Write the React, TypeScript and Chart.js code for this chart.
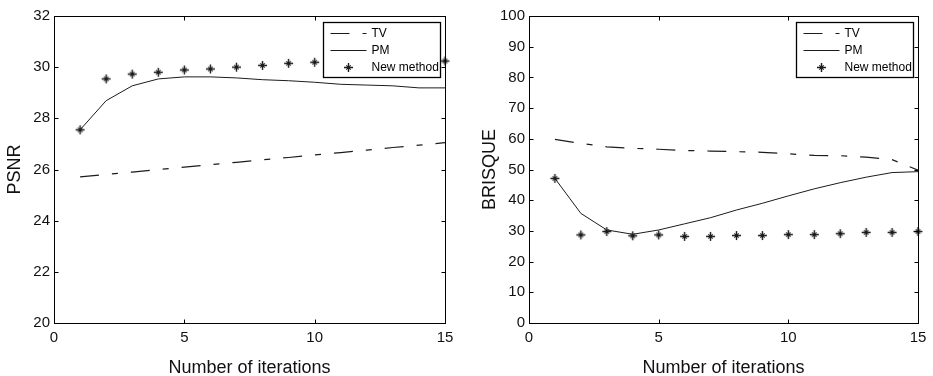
import React, { useEffect, useRef } from "react";
import { Chart, registerables } from "chart.js";

Chart.register(...registerables);

const iterations = [1, 2, 3, 4, 5, 6, 7, 8, 9, 10, 11, 12, 13, 14, 15];

const psnrTV = [25.71, 25.81, 25.9, 26.0, 26.09, 26.19, 26.28, 26.38, 26.47, 26.57, 26.66, 26.76, 26.86, 26.95, 27.05];
const psnrPM = [27.55, 28.69, 29.27, 29.54, 29.62, 29.62, 29.58, 29.51, 29.47, 29.41, 29.33, 29.3, 29.27, 29.19, 29.19];
const psnrNew = [27.55, 29.54, 29.73, 29.8, 29.89, 29.93, 30.0, 30.07, 30.15, 30.19, 30.2, 30.21, 30.22, 30.23, 30.24];

const brisqueTV = [59.8, 58.5, 57.4, 56.9, 56.6, 56.2, 56.0, 55.8, 55.6, 55.1, 54.6, 54.5, 54.0, 53.2, 49.8];
const brisquePM = [47.1, 35.7, 30.3, 28.9, 30.3, 32.3, 34.3, 36.8, 39.0, 41.4, 43.7, 45.7, 47.5, 49.0, 49.3];
const brisqueNew = [47.1, 28.7, 29.8, 28.4, 28.7, 28.2, 28.2, 28.5, 28.5, 28.8, 28.8, 29.1, 29.5, 29.5, 29.8];

const xTicks = [0, 5, 10, 15];
const psnrTicks = [20, 22, 24, 26, 28, 30, 32];
const brisqueTicks = [0, 10, 20, 30, 40, 50, 60, 70, 80, 90, 100];

const seriesLabels = ["TV", "PM", "New method"];
const xTitle = "Number of iterations";

const FONT = "'Liberation Sans', Arial, Helvetica, sans-serif";
const INK = "#1c1c1c";
const DASH = [19, 13, 6, 13];

let markerCache: HTMLCanvasElement | null = null;
function getMarker(): HTMLCanvasElement {
  if (markerCache) return markerCache;
  const c = document.createElement("canvas");
  c.width = 11;
  c.height = 11;
  const g = c.getContext("2d")!;
  g.strokeStyle = INK;
  g.lineWidth = 1.4;
  g.beginPath();
  g.moveTo(1, 5.5);
  g.lineTo(10, 5.5);
  g.moveTo(5.5, 1);
  g.lineTo(5.5, 10);
  g.stroke();
  g.lineWidth = 1.1;
  g.beginPath();
  g.moveTo(3.3, 3.3);
  g.lineTo(7.7, 7.7);
  g.moveTo(3.3, 7.7);
  g.lineTo(7.7, 3.3);
  g.stroke();
  g.fillStyle = INK;
  g.fillRect(4.3, 4.3, 2.4, 2.4);
  markerCache = c;
  return c;
}

const matlabFrame = {
  id: "matlabFrame",
  afterDatasetsDraw(chart: any, _args: any, opts: any) {
    const { ctx, chartArea: a, scales } = chart;
    const L = Math.round(a.left) + 0.5;
    const R = Math.round(a.right) + 0.5;
    const T = Math.round(a.top) + 0.5;
    const B = Math.round(a.bottom) + 0.5;
    ctx.save();
    ctx.strokeStyle = "#000";
    ctx.lineWidth = 1;
    ctx.setLineDash([]);
    ctx.strokeRect(L, T, R - L, B - T);
    const tl = 4;
    ctx.beginPath();
    scales.x.ticks.forEach((t: any) => {
      const px = Math.round(scales.x.getPixelForValue(t.value)) + 0.5;
      ctx.moveTo(px, B);
      ctx.lineTo(px, B - tl);
      ctx.moveTo(px, T);
      ctx.lineTo(px, T + tl);
    });
    scales.y.ticks.forEach((t: any) => {
      const py = Math.round(scales.y.getPixelForValue(t.value)) + 0.5;
      ctx.moveTo(L, py);
      ctx.lineTo(L + tl, py);
      ctx.moveTo(R, py);
      ctx.lineTo(R - tl, py);
    });
    ctx.stroke();

    // legend box inside the axes (MATLAB style)
    const bw = opts.boxWidth;
    const bh = opts.boxHeight;
    const bx = Math.round(a.right - opts.insetRight - bw) + 0.5;
    const by = Math.round(a.top + opts.insetTop) + 0.5;
    ctx.fillStyle = "#fff";
    ctx.fillRect(bx, by, bw, bh);
    ctx.lineWidth = 1.3;
    ctx.strokeStyle = "#000";
    ctx.strokeRect(bx, by, bw, bh);

    const rows = [11, 28, 45];
    chart.data.datasets.forEach((ds: any, i: number) => {
      const y = by + rows[i];
      const x0 = bx + 7;
      const x1 = bx + 43;
      ctx.save();
      if (ds.showLine === false) {
        const cx = (x0 + x1) / 2;
        const m = getMarker();
        ctx.drawImage(m, Math.round(cx - m.width / 2), Math.round(y - m.height / 2));
      } else {
        ctx.strokeStyle = INK;
        ctx.lineWidth = 1.2;
        ctx.setLineDash(ds.borderDash || []);
        ctx.beginPath();
        ctx.moveTo(x0, y);
        ctx.lineTo(x1, y);
        ctx.stroke();
      }
      ctx.restore();
      ctx.fillStyle = "#000";
      ctx.font = `12px ${FONT}`;
      ctx.textAlign = "left";
      ctx.textBaseline = "middle";
      ctx.fillText(ds.label, bx + 48, y);
    });
    ctx.restore();
  },
};

function makeConfig(
  tv: number[],
  pm: number[],
  nw: number[],
  yTicks: number[],
  yTitle: string,
  layout: { right: number; yWidth: number; yTitlePad: number }
): any {
  const pts = (arr: number[]) => iterations.map((x, i) => ({ x, y: arr[i] }));
  return {
    type: "line",
    data: {
      datasets: [
        {
          label: seriesLabels[0],
          data: pts(tv),
          borderColor: INK,
          borderWidth: 1.2,
          borderDash: DASH,
          pointRadius: 0,
          fill: false,
          tension: 0,
        },
        {
          label: seriesLabels[1],
          data: pts(pm),
          borderColor: INK,
          borderWidth: 1,
          pointRadius: 0,
          fill: false,
          tension: 0,
        },
        {
          label: seriesLabels[2],
          data: pts(nw),
          showLine: false,
          pointStyle: getMarker(),
          pointRadius: 5,
          clip: false,
        },
      ],
    },
    options: {
      animation: false,
      responsive: false,
      events: [],
      layout: { padding: { left: 0, right: layout.right, top: 16, bottom: 0 } },
      plugins: {
        legend: { display: false },
        tooltip: { enabled: false },
        matlabFrame: { boxWidth: 117, boxHeight: 55, insetRight: 5, insetTop: 6 },
      },
      scales: {
        x: {
          type: "linear",
          min: xTicks[0],
          max: xTicks[xTicks.length - 1],
          afterBuildTicks: (s: any) => {
            s.ticks = xTicks.map((v) => ({ value: v }));
          },
          afterFit: (s: any) => {
            s.height = 53;
          },
          grid: { display: false, drawTicks: false },
          border: { display: false },
          ticks: { font: { family: FONT, size: 15 }, color: "#111", padding: 6, maxRotation: 0, autoSkip: false },
          title: {
            display: true,
            text: xTitle,
            color: "#111",
            font: { family: FONT, size: 18, lineHeight: 0.9 },
            padding: { top: 0, bottom: 0 },
          },
        },
        y: {
          type: "linear",
          min: yTicks[0],
          max: yTicks[yTicks.length - 1],
          afterBuildTicks: (s: any) => {
            s.ticks = yTicks.map((v) => ({ value: v }));
          },
          afterFit: (s: any) => {
            s.width = layout.yWidth;
          },
          grid: { display: false, drawTicks: false },
          border: { display: false },
          ticks: { font: { family: FONT, size: 15 }, color: "#111", padding: 4, autoSkip: false },
          title: {
            display: true,
            text: yTitle,
            color: "#111",
            font: { family: FONT, size: 18, lineHeight: 1 },
            padding: { top: layout.yTitlePad, bottom: 0 },
          },
        },
      },
    },
    plugins: [matlabFrame],
  };
}

function ChartCanvas({ config, width, height }: { config: () => any; width: number; height: number }) {
  const ref = useRef<HTMLCanvasElement | null>(null);
  useEffect(() => {
    if (!ref.current) return;
    const chart = new Chart(ref.current, config());
    return () => chart.destroy();
  }, []);
  return <canvas ref={ref} width={width} height={height} style={{ display: "block", width, height }} />;
}

export default function App() {
  return (
    <div
      style={{
        position: "absolute",
        left: 0,
        top: 0,
        width: 933,
        height: 376,
        display: "flex",
        background: "#fff",
      }}
    >
      <ChartCanvas
        width={470}
        height={376}
        config={() =>
          makeConfig(psnrTV, psnrPM, psnrNew, psnrTicks, "PSNR", { right: 25, yWidth: 54, yTitlePad: 6 })
        }
      />
      <ChartCanvas
        width={463}
        height={376}
        config={() =>
          makeConfig(brisqueTV, brisquePM, brisqueNew, brisqueTicks, "BRISQUE", { right: 15, yWidth: 59, yTitlePad: 11 })
        }
      />
    </div>
  );
}
